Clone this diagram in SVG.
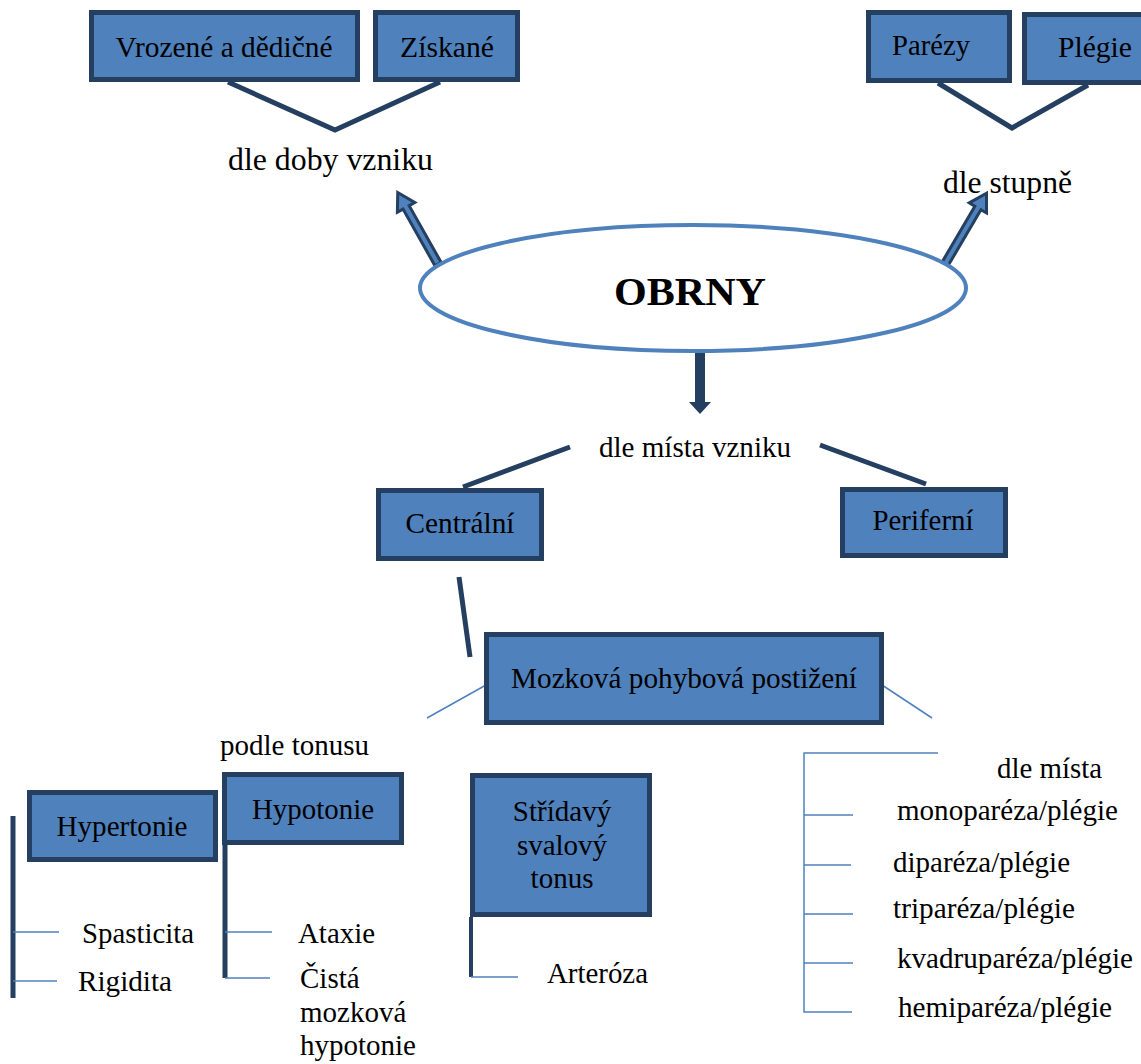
<svg xmlns="http://www.w3.org/2000/svg" width="1141" height="1064" viewBox="0 0 1141 1064">
<style>
.box{fill:#4f81bd;stroke:#243f60;stroke-width:5}
.t{font-family:"Liberation Serif","Times New Roman",serif;font-size:29px;fill:#000}
.c{text-anchor:middle}
.thick{fill:none;stroke:#243f60;stroke-width:5}
.thin{fill:none;stroke:#4f81bd;stroke-width:1.5}
.barrow{fill:#4f81bd;stroke:#243f60;stroke-width:3;stroke-linejoin:miter}
</style>
<rect width="1141" height="1064" fill="#fff"/>
<g id="connectors">
<polyline class="thick" points="228,82 335,130 440,82"/>
<polyline class="thick" points="938,83 1012,128 1088,85"/>
<polygon class="barrow" transform="translate(438,264) rotate(-119.4)" points="0,-3.5 65,-3.5 65,-10 82,0 65,10 65,3.5 0,3.5"/>
<polygon class="barrow" transform="translate(945,264) rotate(-59.6)" points="0,-3.5 65,-3.5 65,-10 82,0 65,10 65,3.5 0,3.5"/>
<polygon fill="#243f60" points="695,353 705,353 705,402 711,402 700,414 689,402 695,402"/>
<line class="thick" x1="570" y1="447" x2="463" y2="487"/>
<line class="thick" x1="820" y1="445" x2="926" y2="484"/>
<line class="thick" x1="459" y1="577" x2="470" y2="657"/>
<line class="thin" x1="486" y1="685" x2="427" y2="718"/>
<line class="thin" x1="882" y1="685" x2="932" y2="718"/>
<line class="thick" x1="13" y1="816" x2="13" y2="998"/>
<line class="thin" x1="13" y1="932" x2="59" y2="932"/>
<line class="thin" x1="13" y1="981" x2="57" y2="981"/>
<line class="thick" x1="225" y1="845" x2="225" y2="978"/>
<line class="thin" x1="225" y1="932" x2="272" y2="932"/>
<line class="thin" x1="225" y1="978" x2="270" y2="978"/>
<line class="thick" style="stroke-width:4" x1="471" y1="917" x2="471" y2="977"/>
<line class="thin" x1="471" y1="977" x2="518" y2="977"/>
<polyline class="thin" points="938,753 804,753 804,1012 852,1012"/>
<line class="thin" x1="804" y1="815" x2="853" y2="815"/>
<line class="thin" x1="804" y1="865" x2="851" y2="865"/>
<line class="thin" x1="804" y1="914" x2="853" y2="914"/>
<line class="thin" x1="804" y1="963" x2="853" y2="963"/>
</g>
<g id="vrozene"><rect class="box" x="91.5" y="12.5" width="266" height="67"/><text class="t c" x="224" y="57" textLength="217" lengthAdjust="spacingAndGlyphs">Vrozené a dědičné</text></g>
<g id="ziskane"><rect class="box" x="375.5" y="12.5" width="142" height="67"/><text class="t c" x="447" y="57" textLength="94" lengthAdjust="spacingAndGlyphs">Získané</text></g>
<g id="parezy"><rect class="box" x="868.5" y="12.5" width="141" height="68"/><text class="t c" x="931" y="55" textLength="78" lengthAdjust="spacingAndGlyphs">Parézy</text></g>
<g id="plegie"><rect class="box" x="1024.5" y="14.5" width="130" height="68"/><text class="t" x="1058" y="57" textLength="74" lengthAdjust="spacingAndGlyphs">Plégie</text></g>
<g id="dle-doby"><text class="t" style="font-size:31px" x="228" y="170" textLength="205" lengthAdjust="spacingAndGlyphs">dle doby vzniku</text></g>
<g id="dle-stupne"><text class="t" style="font-size:31px" x="943" y="193" textLength="129" lengthAdjust="spacingAndGlyphs">dle stupně</text></g>
<g id="obrny"><ellipse cx="693" cy="288" rx="273" ry="63" fill="#fff" stroke="#4f81bd" stroke-width="4"/><text class="t c" x="690" y="305" style="font-size:41px;font-weight:bold" textLength="152" lengthAdjust="spacingAndGlyphs">OBRNY</text></g>
<g id="dle-mista-vzniku"><text class="t" x="599" y="457" textLength="192" lengthAdjust="spacingAndGlyphs">dle místa vzniku</text></g>
<g id="centralni"><rect class="box" x="378.5" y="490.5" width="163" height="68"/><text class="t c" x="460" y="533" textLength="109" lengthAdjust="spacingAndGlyphs">Centrální</text></g>
<g id="periferni"><rect class="box" x="842.5" y="489.5" width="163" height="66"/><text class="t c" x="923" y="530" textLength="101" lengthAdjust="spacingAndGlyphs">Periferní</text></g>
<g id="mozkova"><rect class="box" x="486.5" y="634.5" width="395" height="88"/><text class="t c" x="684" y="688" textLength="346" lengthAdjust="spacingAndGlyphs">Mozková pohybová postižení</text></g>
<g id="podle-tonusu"><text class="t" x="220" y="755" textLength="149" lengthAdjust="spacingAndGlyphs">podle tonusu</text></g>
<g id="hypertonie"><rect class="box" x="29.5" y="792.5" width="186" height="67"/><text class="t c" x="122" y="836" textLength="131" lengthAdjust="spacingAndGlyphs">Hypertonie</text></g>
<g id="hypotonie"><rect class="box" x="224.5" y="774.5" width="177" height="68"/><text class="t c" x="313" y="819" textLength="122" lengthAdjust="spacingAndGlyphs">Hypotonie</text></g>
<g id="stridavy"><rect class="box" x="472.5" y="775.5" width="177" height="139"/><text class="t c" x="562" y="821">Střídavý</text><text class="t c" x="562" y="855">svalový</text><text class="t c" x="562" y="888">tonus</text></g>
<g id="spasticita"><text class="t" x="82" y="943" textLength="112" lengthAdjust="spacingAndGlyphs">Spasticita</text></g>
<g id="rigidita"><text class="t" x="78" y="991" textLength="94" lengthAdjust="spacingAndGlyphs">Rigidita</text></g>
<g id="ataxie"><text class="t" x="298" y="943" textLength="77" lengthAdjust="spacingAndGlyphs">Ataxie</text></g>
<g id="cista"><text class="t" x="300" y="988">Čistá</text><text class="t" x="300" y="1022">mozková</text><text class="t" x="300" y="1055">hypotonie</text></g>
<g id="arteroza"><text class="t" x="547" y="983" textLength="101" lengthAdjust="spacingAndGlyphs">Arteróza</text></g>
<g id="dle-mista"><text class="t" x="997" y="778" textLength="105" lengthAdjust="spacingAndGlyphs">dle místa</text></g>
<g id="mono"><text class="t" x="897" y="820" textLength="221" lengthAdjust="spacingAndGlyphs">monoparéza/plégie</text></g>
<g id="di"><text class="t" x="893" y="872" textLength="177" lengthAdjust="spacingAndGlyphs">diparéza/plégie</text></g>
<g id="tri"><text class="t" x="893" y="918" textLength="182" lengthAdjust="spacingAndGlyphs">triparéza/plégie</text></g>
<g id="kvadru"><text class="t" x="897" y="968" textLength="236" lengthAdjust="spacingAndGlyphs">kvadruparéza/plégie</text></g>
<g id="hemi"><text class="t" x="898" y="1017" textLength="214" lengthAdjust="spacingAndGlyphs">hemiparéza/plégie</text></g>
</svg>
